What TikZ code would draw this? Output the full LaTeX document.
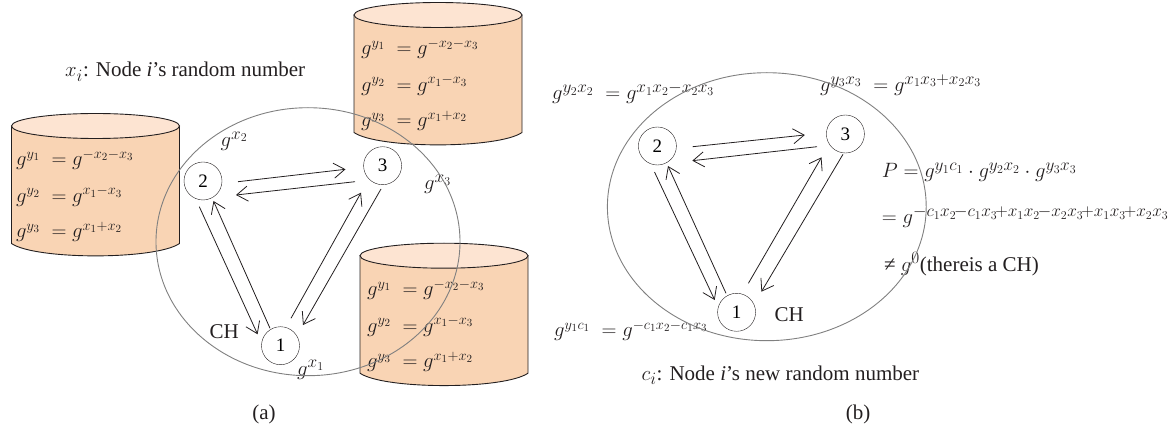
\documentclass[tikz,border=0pt]{standalone}
\usepackage{amsmath,amssymb}
\usepackage{fontspec}
\setmainfont{Liberation Serif}
\usepackage{xcolor}
\usetikzlibrary{arrows.meta}
\DeclareMathSizes{21}{21}{16}{12}
\DeclareMathSizes{20}{20}{15}{11}
\definecolor{storebody}{RGB}{249, 212, 180}
\definecolor{storetop}{RGB}{253, 228, 210}
\definecolor{rangegray}{RGB}{128, 128, 128}
\definecolor{inkblack}{RGB}{35, 31, 32}
\newcommand{\eqone}{$g^{y_1}\;=g^{-x_2-x_3}$}
\newcommand{\eqtwo}{$g^{y_2}\;=g^{x_1-x_3}$}
\newcommand{\eqthree}{$g^{y_3}\;=g^{x_1+x_2}$}
\tikzset{
    sensor/.style={draw=inkblack,circle,minimum size=38pt,inner sep=0pt,font=\fontsize{19}{22}\selectfont},
    lbl/.style={anchor=base west,inner sep=0pt,text=inkblack,font=\fontsize{21}{25}\selectfont},
    lblsmall/.style={lbl,font=\fontsize{20}{24}\selectfont},
    rangeline/.style={draw=rangegray,line width=0.9pt},
    link/.style={draw=inkblack,line width=0.8pt,-{Straight Barb[length=11pt,width=15pt]}}
}

\begin{document}
\begin{tikzpicture}[x=1pt,y=-1pt]
    \useasboundingbox (0,0) rectangle (1172,430);

    % Key stores of panel (a)
    \foreach \cx/\cy/\tx/\nm in {95.5/126/16/left, 438/15/361/high, 444/255.7/367/low} {
        \draw[inkblack,line width=0.9pt,fill=storebody] (\cx-84,\cy) -- (\cx-84,\cy+117.5)
            .. controls (\cx-60,\cy+134) and (\cx+60,\cy+134) .. (\cx+84,\cy+117.5) -- (\cx+84,\cy) -- cycle;
        \draw[inkblack,line width=0.9pt,fill=storetop] (\cx,\cy) ellipse [x radius=84pt,y radius=12.5pt];
        \node[lblsmall] (\nm-one) at (\tx,\cy+40) {\eqone};
        \node[lblsmall] (\nm-two) at (\tx,\cy+76.5) {\eqtwo};
        \node[lblsmall] (\nm-three) at (\tx,\cy+112) {\eqthree};
    }

    % Panel (a)
    \node[lbl] (note-a) at (65,77) {$x_i$: Node \textit{i}'s random number};
    \node[sensor] (a2) at (203,181) {2};
    \node[sensor] (a3) at (382.6,165.7) {3};
    \node[sensor] (a1) at (280.5,345.7) {1};
    \node[lbl] (gx2) at (220.5,146.7) {$g^{x_2}$};
    \node[lbl] (gx3) at (424,190) {$g^{x_3}$};
    \node[lbl] (gx1) at (297,375) {$g^{x_1}$};
    \node[lbl] (ch-a) at (209.4,338) {CH};
    \node[lbl,anchor=base] (cap-a) at (264,419) {(a)};
    \draw[rangeline] (308,241.7) ellipse [x radius=152pt,y radius=134pt];

    \draw[link] ([shift={(35,0.7)}]a2.center) -- ([shift={(-37.1,3.6)}]a3.center);
    \draw[link] ([shift={(-27.6,16)}]a3.center) -- ([shift={(33,14)}]a2.center);
    \draw[link] ([shift={(-3.7,25.7)}]a2.center) -- ([shift={(-22.9,-11.4)}]a1.center);
    \draw[link] ([shift={(-10.5,-17.4)}]a1.center) -- ([shift={(10.5,20)}]a2.center);
    \draw[link] ([shift={(10.5,-27.4)}]a1.center) -- ([shift={(-21.6,27)}]a3.center);
    \draw[link] ([shift={(-1.6,23.3)}]a3.center) -- ([shift={(22.5,-20.7)}]a1.center);

    % Panel (b)
    \node[sensor] (b2) at (657.4,146) {2};
    \node[sensor] (b3) at (845.4,134) {3};
    \node[sensor] (b1) at (736.6,312.3) {1};
    \node[lbl] (eq-b2) at (552,100) {$g^{y_2x_2}\;=g^{x_1x_2-x_2x_3}$};
    \node[lbl] (eq-b3) at (820,91.7) {$g^{y_3x_3}\;=g^{x_1x_3+x_2x_3}$};
    \node[lblsmall] (eq-b1) at (554,336.7) {$g^{y_1c_1}\;=g^{-c_1x_2-c_1x_3}$};
    \node[lbl] (eq-p) at (881.7,178) {$P=g^{y_1c_1}\cdot g^{y_2x_2}\cdot g^{y_3x_3}$};
    \node[lbl] (eq-q) at (881.7,224) {$=g^{-c_1x_2\mkern-2mu-c_1x_3\mkern-2mu+x_1x_2\mkern-2mu-x_2x_3\mkern-2mu+x_1x_3\mkern-2mu+x_2x_3}$};
    \node[lbl] (eq-r) at (884,271.5) {≠ $g^0$(thereis a CH)};
    \node[lbl] (ch-b) at (774.4,321.7) {CH};
    \node[lbl] (note-b) at (641.5,380.7) {$c_i$: Node \textit{i}'s new random number};
    \node[lbl,anchor=base] (cap-b) at (858,419) {(b)};
    \draw[rangeline] (766.8,206.7) ellipse [x radius=159.4pt,y radius=134pt];

    \draw[link] ([shift={(35.3,0.7)}]b2.center) -- ([shift={(-40.6,1)}]b3.center);
    \draw[link] ([shift={(-28.4,12.7)}]b3.center) -- ([shift={(34.9,14.7)}]b2.center);
    \draw[link] ([shift={(-2.9,26)}]b2.center) -- ([shift={(-21.9,-12.3)}]b1.center);
    \draw[link] ([shift={(-10.6,-19)}]b1.center) -- ([shift={(10.6,20)}]b2.center);
    \draw[link] ([shift={(11.8,-29)}]b1.center) -- ([shift={(-23.9,23.3)}]b3.center);
    \draw[link] ([shift={(-2.4,20.3)}]b3.center) -- ([shift={(24.8,-20.6)}]b1.center);
\end{tikzpicture}
\end{document}
